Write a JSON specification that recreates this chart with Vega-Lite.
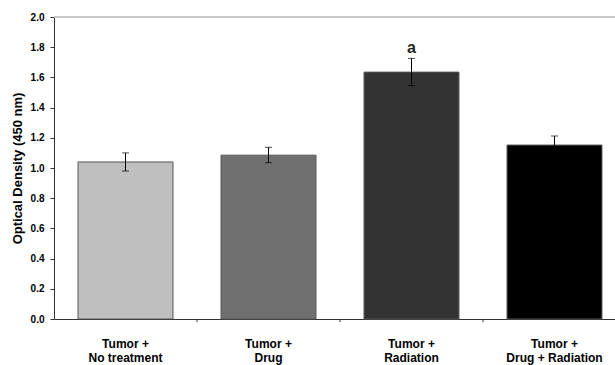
{
  "$schema": "https://vega.github.io/schema/vega-lite/v6.json",
  "width": 561,
  "height": 302,
  "autosize": {"type": "none"},
  "padding": {"left": 54, "top": 17, "right": 0, "bottom": 46},
  "background": "white",
  "config": {
    "view": {"stroke": null},
    "font": "Liberation Sans",
    "axisY": {
      "grid": false, "domainColor": "#333333", "tickColor": "#333333",
      "labelFontSize": 10, "labelFontWeight": "bold", "labelColor": "#000000", "labelPadding": 6,
      "labelOverlap": false, "labelBound": false,
      "titleFontSize": 13, "titleFontWeight": "bold", "titleColor": "#000000", "titlePadding": 6
    }
  },
  "data": {
    "values": [
      {"group": "Tumor +|No treatment", "od": 1.04, "lo": 0.98, "hi": 1.10, "sig": ""},
      {"group": "Tumor +|Drug", "od": 1.085, "lo": 1.035, "hi": 1.137, "sig": ""},
      {"group": "Tumor +|Radiation", "od": 1.635, "lo": 1.545, "hi": 1.726, "sig": "a"},
      {"group": "Tumor +|Drug + Radiation", "od": 1.152, "lo": 1.095, "hi": 1.212, "sig": ""}
    ]
  },
  "layer": [
    {
      "mark": {"type": "bar", "stroke": "#555555", "strokeWidth": 1, "width": {"band": 0.664}},
      "encoding": {
        "x": {
          "field": "group", "type": "nominal", "sort": null,
          "scale": {"type": "band", "paddingInner": 0, "paddingOuter": 0, "range": [0, 572]},
          "axis": {
            "title": null, "labelExpr": "split(datum.label, '|')", "ticks": false, "labelAngle": 0,
            "labelFontSize": 12, "labelFontWeight": "bold", "labelColor": "#000000",
            "labelLineHeight": 14, "labelPadding": 19, "domainColor": "#333333", "domainWidth": 1
          }
        },
        "y": {
          "field": "od", "type": "quantitative",
          "scale": {"domain": [0, 2], "nice": false, "zero": true},
          "axis": {
            "title": "Optical Density (450 nm)",
            "values": [0, 0.1, 0.2, 0.3, 0.4, 0.5, 0.6, 0.7, 0.8, 0.9, 1.0, 1.1, 1.2, 1.3, 1.4, 1.5, 1.6, 1.7, 1.8, 1.9, 2.0],
            "tickCount": 20,
            "labelExpr": "round(datum.value*10) % 2 === 0 ? format(datum.value, '.1f') : ''",
            "tickSize": {"condition": {"test": "round(datum.value*10) % 2 === 0", "value": 4}, "value": 2}
          }
        },
        "color": {
          "field": "group", "type": "nominal", "legend": null,
          "scale": {
            "domain": ["Tumor +|No treatment", "Tumor +|Drug", "Tumor +|Radiation", "Tumor +|Drug + Radiation"],
            "range": ["#bfbfbf", "#707070", "#333333", "#000000"]
          }
        }
      }
    },
    {
      "mark": {"type": "rule", "color": "#c8c8c8", "strokeWidth": 1.5},
      "encoding": {"y": {"datum": 2}}
    },
    {
      "mark": {"type": "rule", "color": "#000000", "strokeWidth": 1},
      "encoding": {
        "x": {"field": "group", "type": "nominal", "sort": null},
        "y": {"field": "lo", "type": "quantitative"},
        "y2": {"field": "hi"}
      }
    },
    {
      "mark": {"type": "tick", "color": "#000000", "size": 7, "thickness": 1, "orient": "horizontal"},
      "encoding": {
        "x": {"field": "group", "type": "nominal", "sort": null},
        "y": {"field": "lo", "type": "quantitative"}
      }
    },
    {
      "mark": {"type": "tick", "color": "#000000", "size": 7, "thickness": 1, "orient": "horizontal"},
      "encoding": {
        "x": {"field": "group", "type": "nominal", "sort": null},
        "y": {"field": "hi", "type": "quantitative"}
      }
    },
    {
      "transform": [{"filter": "datum.group !== 'Tumor +|No treatment'"}],
      "mark": {"type": "rule", "color": "#333333", "strokeWidth": 1},
      "encoding": {
        "x": {"field": "group", "type": "nominal", "sort": null, "bandPosition": 0},
        "y": {"datum": 0},
        "y2": {"datum": -0.02}
      }
    },
    {
      "mark": {"type": "text", "baseline": "alphabetic", "dy": -5, "fontSize": 16, "fontWeight": "bold", "color": "#222222"},
      "encoding": {
        "x": {"field": "group", "type": "nominal", "sort": null},
        "y": {"field": "hi", "type": "quantitative"},
        "text": {"field": "sig"}
      }
    }
  ]
}
